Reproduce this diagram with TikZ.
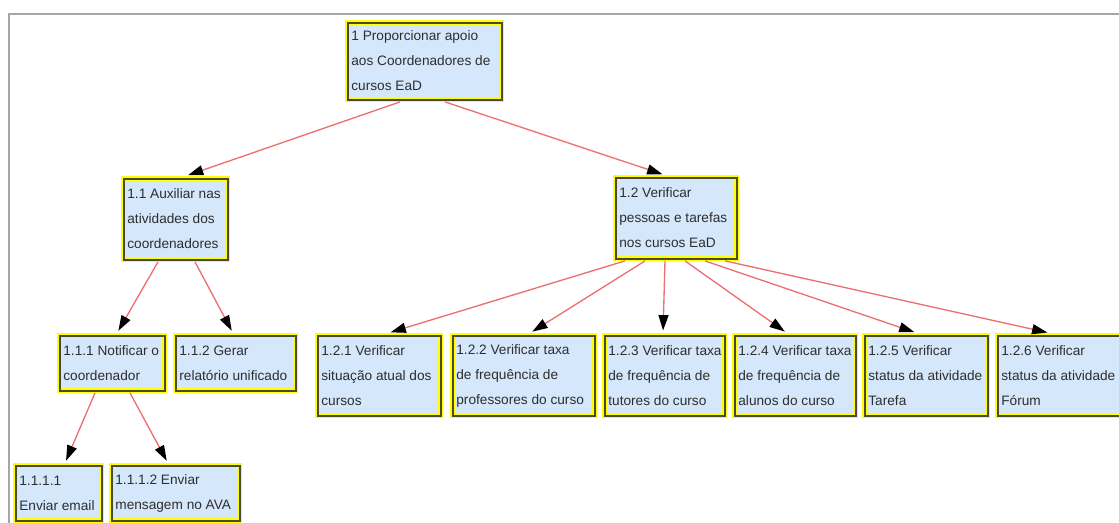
\documentclass[tikz,border=0pt]{standalone}
\usepackage{fontspec}
\setmainfont{Liberation Sans}
\usetikzlibrary{arrows.meta,calc}
\definecolor{boxfill}{HTML}{D5E7FB}
\definecolor{boxedge}{HTML}{4A4A3A}
\definecolor{glow}{HTML}{FFFF00}
\definecolor{linkred}{HTML}{EC7070}
\definecolor{txt}{HTML}{2E2E2E}
\definecolor{framegray}{HTML}{A6A6A6}

\tikzset{
  wbs/.style={rectangle, fill=boxfill, draw=glow, line width=3.6pt, inner sep=0pt,
    postaction={draw=boxedge, line width=1.5pt}},
  wbstext/.style={anchor=west, inner sep=0pt, align=left, text=txt,
    font=\fontsize{10.25}{18.75}\selectfont},
  link/.style={draw=linkred, line width=1pt, shorten >=2pt,
    -{Triangle[length=11.5pt,width=7.5pt,color=black]}},
}
% #1 name, #2 #3 centre (px), #4 #5 outer width/height (px), #6 text
\newcommand\wbsnode[6]{%
  \node[wbs, minimum width=#4*0.75pt-3.75pt, minimum height=#5*0.75pt-3.75pt] (#1) at (#2,#3) {};
  \node[wbstext] (#1t) at ($(#1.west)+(6,0)$) {#6};
}

\begin{document}
\begin{tikzpicture}[x=0.75pt,y=-0.75pt]
\useasboundingbox (0,0) rectangle (1119,522);
\clip (0,0) rectangle (1119,522);

% window frame
\draw[framegray, line width=1.5pt] (8.5,530) -- (8.5,13.5) -- (1130,13.5);

% work breakdown boxes
\wbsnode{r}{424.5}{61}{159}{82}{1 Proporcionar apoio\\aos Coordenadores de\\cursos EaD}
\wbsnode{a}{175.5}{219}{109}{86}{1.1 Auxiliar nas\\atividades dos\\coordenadores}
\wbsnode{b}{676}{218}{126}{86}{1.2 Verificar\\pessoas e tarefas\\nos cursos EaD}
\wbsnode{aa}{112}{363}{110}{60}{1.1.1 Notificar o\\coordenador}
\wbsnode{ab}{235.5}{363}{125}{60}{1.1.2 Gerar\\relatório unificado}
\wbsnode{aaa}{58.5}{493}{91}{60}{1.1.1.1\\Enviar email}
\wbsnode{aab}{175.5}{493}{133}{60}{1.1.1.2 Enviar\\mensagem no AVA}
\wbsnode{ba}{379}{375.5}{128}{85}{1.2.1 Verificar\\situação atual dos\\cursos}
\wbsnode{bb}{523.5}{375.5}{147}{85}{1.2.2 Verificar taxa\\de frequência de\\professores do curso}
\wbsnode{bc}{664.5}{375.5}{125}{85}{1.2.3 Verificar taxa\\de frequência de\\tutores do curso}
\wbsnode{bd}{795}{375.5}{126}{85}{1.2.4 Verificar taxa\\de frequência de\\alunos do curso}
\wbsnode{be}{926}{375.5}{128}{85}{1.2.5 Verificar\\status da atividade\\Tarefa}
\wbsnode{bf}{1060}{375.5}{130}{85}{1.2.6 Verificar\\status da atividade\\Fórum}

% connectors
\draw[link] ($(r.south)+(-24.5,0)$) -- ($(a.north)+(10,0)$);
\draw[link] ($(r.south)+(20.5,0)$) -- ($(b.north)+(-11,0)$);
\draw[link] ($(a.south)+(-17.5,0)$) -- ($(aa.north)+(5,0)$);
\draw[link] ($(a.south)+(19.5,0)$) -- ($(ab.north)+(-2.5,0)$);
\draw[link] ($(aa.south)+(-17,0)$) -- ($(aaa.north)+(6.5,0)$);
\draw[link] ($(aa.south)+(18,0)$) -- ($(aab.north)+(-7.5,0)$);
\draw[link] ($(b.south)+(-51,0)$) -- ($(ba.north)+(9,0)$);
\draw[link] ($(b.south)+(-31,0)$) -- ($(bb.north)+(6.5,0)$);
\draw[link] ($(b.south)+(-11,0)$) -- ($(bc.north)+(-1.5,0)$);
\draw[link] ($(b.south)+(9,0)$) -- ($(bd.north)+(-8,0)$);
\draw[link] ($(b.south)+(29,0)$) -- ($(be.north)+(-9,0)$);
\draw[link] ($(b.south)+(49,0)$) -- ($(bf.north)+(-10,0)$);
\end{tikzpicture}
\end{document}
